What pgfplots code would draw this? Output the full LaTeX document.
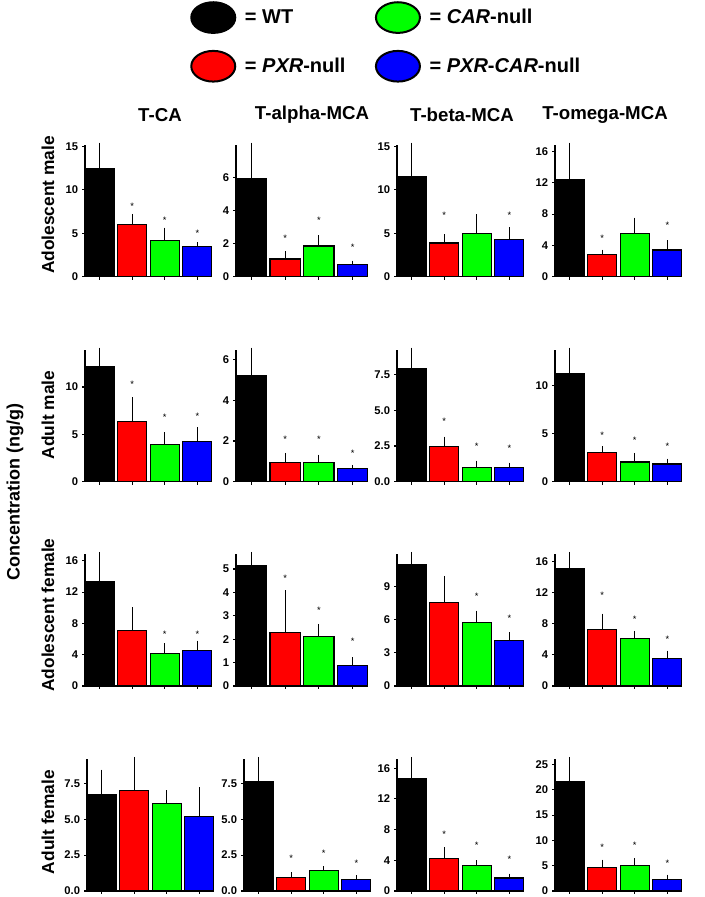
\documentclass[border=0pt]{standalone}
\usepackage{fontspec}
\setmainfont{Liberation Sans}
\usepackage{pgfplots}
\pgfplotsset{compat=1.18}
\definecolor{bgreen}{RGB}{0,255,0}
\definecolor{bred}{RGB}{255,0,0}
\definecolor{bblue}{RGB}{0,0,255}
\pgfplotsset{
 pan/.style={scale only axis, anchor=south west, xmin=-0.45, xmax=3.45, ymin=0,
  axis x line*=bottom, axis y line*=left,
  axis line style={line width=1pt,-},
  xtick={0,1,2,3}, xticklabels={},
  tick align=outside, major tick length=2.2pt,
  tick style={line width=0.8pt, black},
  yticklabel style={font=\fontsize{8.4}{9}\selectfont\bfseries, xshift=0.5pt},
  /pgf/number format/assume math mode=true,
  clip=false},
 bst/.style={ybar, bar width=0.89, bar shift=0pt, draw=black, line width=0.9pt,
  error bars/y dir=plus, error bars/y explicit,
  error bars/error bar style={line width=0.8pt, black},
  error bars/error mark options={line width=0.8pt, mark size=1.6pt, black}},
 sst/.style={only marks, mark=text, text mark={\fontsize{7}{7}\selectfont *}, black!75},
}
\newcommand{\bars}[8]{%
 \addplot[bst, fill=black] coordinates {(0,#1) +- (0,#2)};
 \addplot[bst, fill=bred] coordinates {(1,#3) +- (0,#4)};
 \addplot[bst, fill=bgreen] coordinates {(2,#5) +- (0,#6)};
 \addplot[bst, fill=bblue] coordinates {(3,#7) +- (0,#8)};
}
\begin{document}
\begin{tikzpicture}[x=0.75pt,y=0.75pt]
\useasboundingbox (0pt,0pt) rectangle (528.75pt,672.75pt);
% legend
\begin{axis}[hide axis, scale only axis, at={(0pt,0pt)}, anchor=south west,
 width=528.75pt, height=672.75pt, xmin=0,xmax=1,ymin=0,ymax=1,
 legend columns=2, legend cell align=left,
 legend style={at={(0.2695,0.9989)}, anchor=north west, draw=none, fill=none,
  inner sep=0pt, font=\fontsize{15}{17}\selectfont\bfseries, row sep=12pt,
  /tikz/every even column/.append style={column sep=0pt}}]
\addlegendimage{legend image code/.code={\draw[fill=black,line width=1.5pt] (16.5pt,0pt) ellipse [x radius=16.5pt, y radius=11.5pt];}}
\addlegendentry{\makebox[100pt][l]{\hspace{4.5pt}= WT}}
\addlegendimage{legend image code/.code={\draw[fill=bgreen,line width=1.5pt] (16.5pt,0pt) ellipse [x radius=16.5pt, y radius=11.5pt];}}
\addlegendentry{\hspace{4.5pt}= \textit{CAR}-null}
\addlegendimage{legend image code/.code={\draw[fill=bred,line width=1.5pt] (16.5pt,0pt) ellipse [x radius=16.5pt, y radius=11.5pt];}}
\addlegendentry{\makebox[100pt][l]{\hspace{4.5pt}= \textit{PXR}-null}}
\addlegendimage{legend image code/.code={\draw[fill=bblue,line width=1.5pt] (16.5pt,0pt) ellipse [x radius=16.5pt, y radius=11.5pt];}}
\addlegendentry{\hspace{4.5pt}= \textit{PXR}-\textit{CAR}-null}
\end{axis}
% titles
\node[font=\fontsize{14}{16}\selectfont\bfseries] at (160,{897-115}) {T-CA};
\node[font=\fontsize{14}{16}\selectfont\bfseries] at (312,{897-115}) {T-alpha-MCA};
\node[font=\fontsize{14}{16}\selectfont\bfseries] at (462,{897-115}) {T-beta-MCA};
\node[font=\fontsize{14}{16}\selectfont\bfseries] at (605,{897-115}) {T-omega-MCA};
\node[rotate=90,font=\fontsize{13}{15}\selectfont\bfseries] at (48,{897-205}) {Adolescent male};
\node[rotate=90,font=\fontsize{13}{15}\selectfont\bfseries] at (48,{897-415}) {Adult male};
\node[rotate=90,font=\fontsize{13}{15}\selectfont\bfseries] at (48,{897-615}) {Adolescent female};
\node[rotate=90,font=\fontsize{13}{15}\selectfont\bfseries] at (48,{897-822}) {Adult female};
\node[rotate=90,font=\fontsize{13.5}{15}\selectfont\bfseries] at (15,{897-492}) {Concentration (ng/g)};
% ROW 1
\begin{axis}[pan, at={(63.75pt,465.23pt)}, width=95.25pt, height=99pt, ymax=15.2, ytick={0,5,10,15}]
\bars{12.4}{2.8}{6.05}{0.95}{4.2}{1.2}{3.5}{0.2}
\addplot[sst] coordinates {(1,8.16) (2,6.5) (3,4.96)};
\end{axis}
\begin{axis}[pan, at={(177pt,465.23pt)}, width=99pt, height=99pt, ymax=8, ytick={0,2,4,6}]
\bars{5.94}{2.06}{1.07}{0.35}{1.86}{0.53}{0.73}{0.12}
\addplot[sst] coordinates {(1,2.33) (2,3.44) (3,1.76)};
\end{axis}
\begin{axis}[pan, at={(297.75pt,465.23pt)}, width=95.25pt, height=99pt, ymax=15.2, ytick={0,5,10,15}]
\bars{11.47}{3.73}{3.89}{0.77}{4.93}{1.99}{4.27}{1.15}
\addplot[sst] coordinates {(1,7.12) (3,7.12)};
\end{axis}
\begin{axis}[pan, at={(416.25pt,465.23pt)}, width=95.25pt, height=99pt, ymax=16.86, ytick={0,4,8,12,16}]
\bars{12.38}{4.48}{2.87}{0.33}{5.5}{1.76}{3.42}{0.93}
\addplot[sst] coordinates {(1,4.87) (3,6.53)};
\end{axis}
% ROW 2
\begin{axis}[pan, at={(63.75pt,311.48pt)}, width=95.25pt, height=99pt, ymax=13.94, ytick={0,5,10}]
\bars{12.2}{1.74}{6.35}{2.32}{3.93}{1.07}{4.28}{1.23}
\addplot[sst] coordinates {(1,10.25) (2,6.78) (3,6.92)};
\end{axis}
\begin{axis}[pan, at={(177pt,311.48pt)}, width=99pt, height=99pt, ymax=6.49, ytick={0,2,4,6}]
\bars{5.2}{1.29}{0.93}{0.38}{0.93}{0.30}{0.64}{0.08}
\addplot[sst] coordinates {(1,2.08) (2,2.08) (3,1.42)};
\end{axis}
\begin{axis}[pan, at={(297.75pt,311.48pt)}, width=95.25pt, height=99pt, ymax=9.25, ytick={0,2.5,5,7.5}, yticklabels={0.0,2.5,5.0,7.5}]
\bars{7.92}{1.33}{2.49}{0.51}{1.0}{0.33}{1.0}{0.19}
\addplot[sst] coordinates {(1,4.24) (2,2.51) (3,2.33)};
\end{axis}
\begin{axis}[pan, at={(416.25pt,311.48pt)}, width=95.25pt, height=99pt, ymax=13.7, ytick={0,5,10}]
\bars{11.27}{2.43}{3.04}{0.41}{2.04}{0.72}{1.83}{0.34}
\addplot[sst] coordinates {(1,4.83) (2,4.34) (3,3.66)};
\end{axis}
% ROW 3
\begin{axis}[pan, at={(63.75pt,158.25pt)}, width=95.25pt, height=99pt, ymax=16.86, ytick={0,4,8,12,16}]
\bars{13.32}{3.54}{7.06}{2.74}{4.13}{1.07}{4.51}{1.02}
\addplot[sst] coordinates {(2,6.64) (3,6.64)};
\end{axis}
\begin{axis}[pan, at={(177pt,158.25pt)}, width=99pt, height=99pt, ymax=5.64, ytick={0,1,2,3,4,5}]
\bars{5.14}{0.5}{2.28}{1.71}{2.11}{0.45}{0.88}{0.26}
\addplot[sst] coordinates {(1,4.6) (2,3.22) (3,1.89)};
\end{axis}
\begin{axis}[pan, at={(297.75pt,158.25pt)}, width=95.25pt, height=99pt, ymax=11.9, ytick={0,3,6,9}]
\bars{10.96}{0.93}{7.54}{2.19}{5.7}{0.9}{4.12}{0.54}
\addplot[sst] coordinates {(2,8.05) (3,6.1)};
\end{axis}
\begin{axis}[pan, at={(416.25pt,158.25pt)}, width=95.25pt, height=99pt, ymax=17, ytick={0,4,8,12,16}]
\bars{15.09}{1.91}{7.27}{1.79}{6.07}{0.77}{3.59}{0.69}
\addplot[sst] coordinates {(1,11.63) (2,8.63) (3,6.07)};
\end{axis}
% ROW 4
\begin{axis}[pan, at={(65.25pt,4.5pt)}, width=95.25pt, height=99pt, ymax=9.19, ytick={0,2.5,5,7.5}, yticklabels={0.0,2.5,5.0,7.5}]
\bars{6.69}{1.62}{6.99}{2.20}{6.08}{0.79}{5.18}{1.90}
\end{axis}
\begin{axis}[pan, at={(183pt,4.5pt)}, width=95.25pt, height=99pt, ymax=9.2, ytick={0,2.5,5,7.5}, yticklabels={0.0,2.5,5.0,7.5}]
\bars{7.62}{1.58}{0.93}{0.23}{1.44}{0.14}{0.8}{0.15}
\addplot[sst] coordinates {(1,2.3) (2,2.62) (3,1.9)};
\end{axis}
\begin{axis}[pan, at={(297.75pt,4.5pt)}, width=95.25pt, height=99pt, ymax=17.2, ytick={0,4,8,12,16}]
\bars{14.7}{2.5}{4.2}{1.2}{3.3}{0.4}{1.7}{0.3}
\addplot[sst] coordinates {(1,7.4) (2,6.0) (3,4.1)};
\end{axis}
\begin{axis}[pan, at={(416.25pt,4.5pt)}, width=95.25pt, height=99pt, ymax=26.1, ytick={0,5,10,15,20,25}]
\bars{21.7}{4.4}{4.6}{1.2}{5.1}{1.0}{2.2}{0.6}
\addplot[sst] coordinates {(1,8.7) (2,9.0) (3,5.5)};
\end{axis}
\end{tikzpicture}
\end{document}
